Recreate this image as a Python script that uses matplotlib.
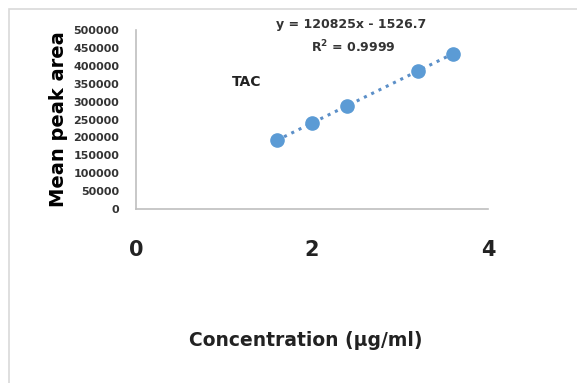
import matplotlib.pyplot as plt
from matplotlib.patches import Rectangle

conc = [1.6, 2.0, 2.4, 3.2, 3.6]
area = [192000, 240500, 288000, 385500, 433000]
slope = 120825
intercept = -1526.7
x_ticks = [0, 2, 4]
y_ticks = list(range(0, 500001, 50000))

fig = plt.figure(figsize=(5.77, 3.83), dpi=100)
fig.patches.append(Rectangle((9 / 577, -0.01), 1.0, 1 - 9 / 383 + 0.01,
                             transform=fig.transFigure, fill=False,
                             edgecolor='#d9d9d9', linewidth=1.2))

ax = fig.add_axes([136 / 577, 1 - 209 / 383, (488 - 136) / 577, (209 - 30) / 383])
ax.plot(conc, area, 'o', color='#5b9bd5', markersize=9.5, zorder=3)
fit = [slope * c + intercept for c in [conc[0], conc[-1]]]
ax.plot([conc[0], conc[-1]], fit, linestyle=':', color='#5b8fc8', linewidth=2.2)

ax.set_xlim(0, 4)
ax.set_ylim(0, 500000)
ax.set_xticks(x_ticks)
ax.set_yticks(y_ticks)
ax.set_xticklabels([str(t) for t in x_ticks], fontsize=15, fontweight='bold', color='#222222')
ax.set_yticklabels([str(t) for t in y_ticks], fontsize=8, fontweight='bold', color='#333333')
ax.tick_params(length=0)
ax.tick_params(axis='x', pad=22)
ax.tick_params(axis='y', pad=12)
for s in ['top', 'right']:
    ax.spines[s].set_visible(False)
for s in ['left', 'bottom']:
    ax.spines[s].set_color('#bfbfbf')
    ax.spines[s].set_linewidth(1.2)

ax.set_ylabel('Mean peak area', fontsize=14, fontweight='bold', labelpad=4)
fig.text(306 / 577, 1 - 341 / 383, 'Concentration (µg/ml)', fontsize=13.5,
         fontweight='bold', ha='center', va='center', color='#222222')

ax.text(2.45, 516000, 'y = 120825x - 1526.7', fontsize=9, fontweight='bold',
        ha='center', va='center', color='#333333')
ax.text(2.47, 452000, 'R$^\\mathbf{2}$ = 0.9999', fontsize=9, fontweight='bold',
        ha='center', va='center', color='#333333')
ax.text(1.26, 354000, 'TAC', fontsize=10, fontweight='bold', ha='center',
        va='center', color='#222222')

fig.savefig('out.png', dpi=100)
